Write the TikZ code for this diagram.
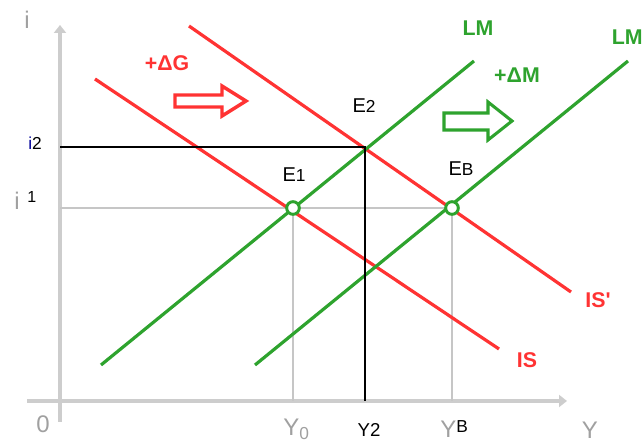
\documentclass[tikz,border=0pt]{standalone}
\usepackage{fontspec}
\setmainfont{Liberation Sans}
\usetikzlibrary{arrows.meta,calc,positioning}
\definecolor{ISRed}{HTML}{FF3333}
\definecolor{LMGreen}{HTML}{2EA32E}
\definecolor{AxisGrey}{HTML}{CDCDCD}
\definecolor{GuideGrey}{HTML}{C6C6C6}
\definecolor{LabelGrey}{HTML}{A0A0A0}

\begin{document}
\begin{tikzpicture}[x=0.75pt, y=-0.75pt,
    axis/.style={line width=3pt, AxisGrey, -{Triangle[length=6pt, width=9pt]}},
    guide/.style={line width=0.8pt, GuideGrey},
    level/.style={line width=1.1pt, black},
    iscurve/.style={line width=2.4pt, ISRed},
    lmcurve/.style={line width=2.4pt, LMGreen},
    eqpoint/.style={circle, draw=LMGreen, line width=2.2pt, fill=white, inner sep=0pt, minimum size=9.5pt},
    curvelabel/.style={font=\fontsize{16}{18}\selectfont\bfseries, inner sep=0pt},
    ptlabel/.style={font=\fontsize{15}{17}\selectfont, inner sep=0pt},
    axislabel/.style={font=\fontsize{18}{20}\selectfont, text=LabelGrey, inner sep=0pt},
    shiftarrow/.style={fill=white, line join=miter}]
  \useasboundingbox (0,0) rectangle (644,445);

  % axes
  \coordinate (O) at (60,401);
  \coordinate (ybot) at (60,422);
  \coordinate (ytop) at (60,25);
  \coordinate (xleft) at (27,401);
  \coordinate (xright) at (567,401);
  \draw[axis] (ybot) -- (ytop);
  \draw[axis] (xleft) -- (xright);

  % equilibria
  \coordinate (E1) at (293,208);
  \coordinate (E2) at (365,147);
  \coordinate (EB) at (452,208);

  % guide lines
  \draw[guide] (O |- EB) -- (EB) -- (EB |- O);
  \draw[guide] (E1) -- (E1 |- O);

  % curves
  \coordinate (IS-a) at (95,79);
  \coordinate (IS-b) at (499,349);
  \coordinate (ISp-a) at (189,26);
  \coordinate (ISp-b) at (571,292);
  \coordinate (LM-a) at (101,365);
  \coordinate (LM-b) at (474,61);
  \coordinate (LMp-a) at (255,365);
  \coordinate (LMp-b) at (628,61);
  \draw[iscurve] (IS-a) -- (IS-b);
  \draw[iscurve] (ISp-a) -- (ISp-b);
  \draw[lmcurve] (LM-a) -- (LM-b);
  \draw[lmcurve] (LMp-a) -- (LMp-b);

  % new level
  \draw[level] (O |- E2) -- (E2) -- (E2 |- O);

  \node[eqpoint] (c1) at (E1) {};
  \node[eqpoint] (cB) at (EB) {};

  % shift arrows
  \draw[shiftarrow, draw=ISRed, line width=2.6pt] (175,95) -- (222,95) -- (222,86) -- (246,101)
    -- (222,116) -- (222,107) -- (175,107) -- cycle;
  \draw[shiftarrow, draw=LMGreen, line width=2.3pt] (444,113) -- (488,113) -- (488,102) -- (512,121)
    -- (488,140) -- (488,130) -- (444,130) -- cycle;

  % labels
  \node[curvelabel, ISRed] (dG) at (167,63) {+ΔG};
  \node[curvelabel, LMGreen] (dM) at (517,75) {+ΔM};
  \node[curvelabel, LMGreen] (lLM) at (478,28) {LM};
  \node[curvelabel, LMGreen, anchor=east] (lLMp) at (643,37) {LM};
  \node[curvelabel, ISRed] (lIS) at (527,360) {IS};
  \node[curvelabel, ISRed] (lISp) at (598,300) {IS\textquotesingle};

  \node[ptlabel] (lE1) at (294,175) {E{\fontsize{13}{15}\selectfont 1}};
  \node[ptlabel] (lE2) at (364,106) {E{\fontsize{13}{15}\selectfont 2}};
  \node[ptlabel] (lEB) at (461,169) {E{\fontsize{13}{15}\selectfont B}};

  \node[axislabel] (li) at (27,20) {i};
  \node[axislabel] (l0) at (43,424) {0};
  \node[axislabel] (lY) at (590,430) {Y};
  \node[font=\fontsize{13}{15}\selectfont, inner sep=0pt] (li2) at (35,143) {\textcolor{blue!60!black}{i}2};
  \node[axislabel, anchor=base west] (li1) at (14,210) {i};
  \node[font=\fontsize{12}{14}\selectfont, inner sep=0pt, anchor=north west] (l1) at (27,191) {1};

  \node[axislabel, anchor=base west] (lY0) at (283,436) {Y\raisebox{-3pt}{\fontsize{13}{15}\selectfont 0}};
  \node[font=\fontsize{14}{16}\selectfont, inner sep=0pt] (lY2) at (369,430) {Y2};
  \node[axislabel, anchor=base west] (lYB) at (440,438) {Y\raisebox{4pt}{\textcolor{black}{\fontsize{13}{15}\selectfont B}}};
\end{tikzpicture}
\end{document}
